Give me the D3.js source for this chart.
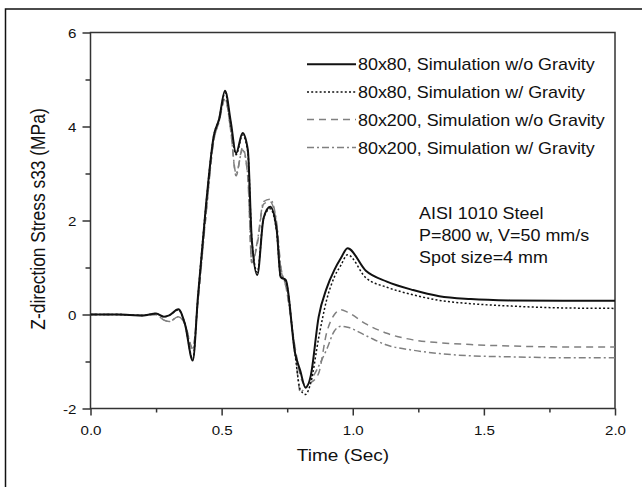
<!DOCTYPE html>
<html lang="en">
<head>
<meta charset="UTF-8">
<title>Z-direction Stress s33</title>
<script src="https://d3js.org/d3.v7.min.js"></script>
<style>
  body { margin: 0; background: #fff; }
  text { font-family: "Liberation Sans", Arial, sans-serif; fill: #111; }
</style>
</head>
<body>
<div id="chart"></div>
<script>

// time grid shared by all four runs (sec)
const time = [0, 0.1, 0.2, 0.25, 0.28, 0.3, 0.335, 0.36, 0.39, 0.41, 0.44, 0.47, 0.49, 0.513,
  0.535, 0.555, 0.58, 0.6, 0.615, 0.636, 0.66, 0.685, 0.71, 0.725, 0.745, 0.78, 0.8, 0.82,
  0.84, 0.87, 0.9, 0.93, 0.955, 0.98, 1.05, 1.13, 1.23, 1.33, 1.45, 1.6, 1.8, 2.0];

// stress values (MPa)
const s80NoGrav = [0, 0, -0.02, 0.02, -0.05, -0.02, 0.11, -0.2, -0.98, 0.4, 2.3, 3.8, 4.15, 4.76,
  4.1, 3.43, 3.86, 3.5, 1.6, 0.84, 2.05, 2.29, 1.8, 0.8, 0.73, -0.82, -1.2, -1.56,
  -1.3, -0.05, 0.55, 0.95, 1.2, 1.41, 0.93, 0.7, 0.52, 0.39, 0.33, 0.3, 0.29, 0.29];
const s80Grav = [0, 0, -0.02, 0.02, -0.05, -0.02, 0.1, -0.2, -0.95, 0.4, 2.3, 3.8, 4.15, 4.72,
  4.05, 3.4, 3.82, 3.45, 1.6, 0.9, 2.05, 2.25, 1.75, 0.8, 0.7, -0.85, -1.6, -1.7,
  -1.45, -0.5, 0.3, 0.8, 1.05, 1.27, 0.78, 0.58, 0.42, 0.3, 0.23, 0.18, 0.14, 0.13];
const s200NoGrav = [0, 0, -0.02, 0.0, -0.12, -0.15, -0.05, -0.2, -0.72, 0.3, 2.1, 3.7, 4.1, 4.6,
  3.9, 2.95, 3.55, 2.9, 1.1, 1.5, 2.35, 2.4, 1.9, 1.0, 0.6, -0.7, -1.3, -1.5,
  -1.45, -1.25, -0.4, 0.0, 0.1, 0.05, -0.2, -0.4, -0.54, -0.6, -0.64, -0.67, -0.69, -0.69];
const s200Grav = [0, 0, -0.02, 0.0, -0.12, -0.15, -0.05, -0.2, -0.75, 0.3, 2.1, 3.7, 4.1, 4.6,
  3.9, 3.0, 3.5, 2.95, 1.1, 1.55, 2.4, 2.45, 1.95, 1.05, 0.6, -0.75, -1.65, -1.55,
  -1.4, -1.1, -0.75, -0.35, -0.25, -0.27, -0.45, -0.65, -0.76, -0.83, -0.88, -0.9, -0.92, -0.92];

const seriesNames = ["80x80, Simulation w/o Gravity", "80x80, Simulation w/ Gravity",
  "80x200, Simulation w/o Gravity", "80x200, Simulation w/ Gravity"];
const notes = ["AISI 1010 Steel", "P=800 w, V=50 mm/s", "Spot size=4 mm"];
const xTicks = [0, 0.5, 1.0, 1.5, 2.0];
const yTicks = [-2, 0, 2, 4, 6];

const width = 642, height = 487;
const plotL = 90.5, plotR = 615, plotT = 32.5, plotB = 408.5;
const sx = 1.12; // the figure is a little stretched sideways

const svg = d3.select('#chart').append('svg')
  .attr('width', width)
  .attr('height', height);

// outer frame, only top and left edges are inside the picture
svg.append('rect')
  .attr('x', 5.5).attr('y', 9)
  .attr('width', 700).attr('height', 600)
  .style('fill', 'none').style('stroke', '#111').style('stroke-width', 1.5);

const x = d3.scaleLinear().domain([0, 2]).range([plotL, plotR]);
const y = d3.scaleLinear().domain([-2, 6]).range([plotB, plotT]);

// minor ticks first, then major with labels
const xAxisMinor = d3.axisBottom(x).tickValues([0.25, 0.75, 1.25, 1.75]).tickSize(4).tickFormat('');
const xAxis = d3.axisBottom(x).tickValues(xTicks).tickSize(7).tickSizeOuter(0).tickFormat(d => d.toFixed(1));
const yAxisMinor = d3.axisLeft(y).tickValues([-1, 1, 3, 5]).tickSize(5).tickFormat('');
const yAxis = d3.axisLeft(y).tickValues(yTicks).tickSize(8).tickSizeOuter(0).tickFormat(d => String(d)); // plain hyphen for -2

function styleAxis(g) {
  g.selectAll('path, line').style('stroke', '#333').style('stroke-width', 1.5);
  g.select('.domain').remove();
}

const gxm = svg.append('g').attr('transform', `translate(0,${plotB})`).call(xAxisMinor);
styleAxis(gxm);
const gx = svg.append('g').attr('transform', `translate(0,${plotB})`).call(xAxis);
styleAxis(gx);
gx.selectAll('text')
  .attr('y', 0).attr('dy', null)
  .attr('transform', `translate(0,26) scale(${sx},1)`)
  .style('font-size', '13.5px').style('fill', '#111');

const gym = svg.append('g').attr('transform', `translate(${plotL},0)`).call(yAxisMinor);
styleAxis(gym);
const gy = svg.append('g').attr('transform', `translate(${plotL},0)`).call(yAxis);
styleAxis(gy);
gy.selectAll('text')
  .attr('x', 0).attr('dy', '0.35em')
  .attr('transform', `translate(-14,0) scale(${sx},1)`)
  .style('font-size', '13.5px').style('fill', '#111');

// plot box
svg.append('rect')
  .attr('x', plotL).attr('y', plotT)
  .attr('width', plotR - plotL).attr('height', plotB - plotT)
  .style('fill', 'none').style('stroke', '#333').style('stroke-width', 1.5);

const styles = [
  { values: s80NoGrav, color: '#111', w: 2, dash: null },
  { values: s80Grav, color: '#111', w: 1.5, dash: '2,2.2' },
  { values: s200NoGrav, color: '#808080', w: 1.5, dash: '7,5' },
  { values: s200Grav, color: '#808080', w: 1.5, dash: '7,3,2,3' }
];

const line = d3.line()
  .x(d => x(d[0]))
  .y(d => y(d[1]))
  .curve(d3.curveMonotoneX);

// draw the gray ones under the black ones
[3, 2, 1, 0].forEach(i => {
  const s = styles[i];
  svg.append('path')
    .datum(time.map((t, k) => [t, s.values[k]]))
    .attr('d', line)
    .style('fill', 'none')
    .style('stroke', s.color)
    .style('stroke-width', s.w)
    .style('stroke-dasharray', s.dash)
    .style('stroke-linejoin', 'round');
});

// legend
const legendY = [64.3, 92, 119.5, 147.5];
seriesNames.forEach((name, i) => {
  const s = styles[i];
  svg.append('line')
    .attr('x1', 307).attr('x2', 356)
    .attr('y1', legendY[i]).attr('y2', legendY[i])
    .style('stroke', s.color)
    .style('stroke-width', s.w)
    .style('stroke-dasharray', s.dash);
  svg.append('text')
    .attr('transform', `translate(358,${legendY[i] + 6}) scale(${sx},1)`)
    .style('font-size', '16px')
    .text(name);
});

// run conditions
notes.forEach((n, i) => {
  svg.append('text')
    .attr('transform', `translate(419,${218.5 + i * 22.3}) scale(${sx},1)`)
    .style('font-size', '16px')
    .text(n);
});

// axis titles
svg.append('text')
  .attr('transform', `translate(343,461) scale(${sx},1)`)
  .attr('text-anchor', 'middle')
  .style('font-size', '17px')
  .text('Time (Sec)');

svg.append('text')
  .attr('transform', `translate(38,219) rotate(-90) scale(1,${sx})`)
  .attr('text-anchor', 'middle')
  .attr('dy', '0.35em')
  .style('font-size', '17.4px')
  .text('Z-direction Stress s33 (MPa)');

</script>
</body>
</html>
